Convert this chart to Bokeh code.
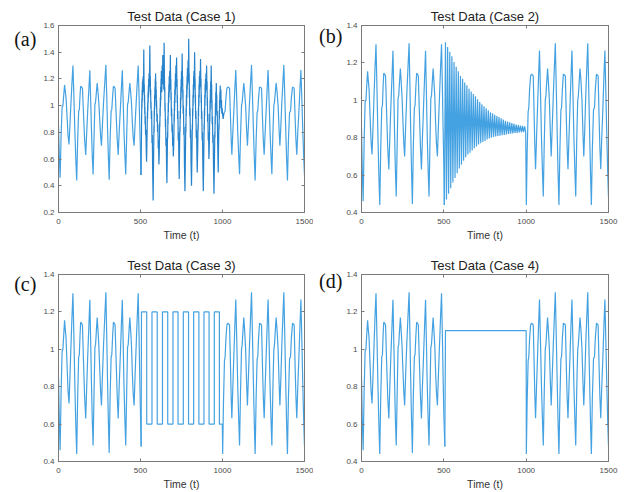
from bokeh.plotting import figure
from bokeh.layouts import column, row
from bokeh.models import LinearAxis, FixedTicker, Range1d
from bokeh.embed import file_html
from bokeh.resources import INLINE

# ---------------- data ----------------
x_ticks = [0, 500, 1000, 1500]
x_tick_labels = ["0", "500", "1000", "1500"]
y_ticks_a = [0.2, 0.4, 0.6, 0.8, 1.0, 1.2, 1.4, 1.6]
y_labels_a = ["0.2", "0.4", "0.6", "0.8", "1", "1.2", "1.4", "1.6"]
y_ticks_b = [0.4, 0.6, 0.8, 1.0, 1.2, 1.4]
y_labels_b = ["0.4", "0.6", "0.8", "1", "1.2", "1.4"]
titles = ["Test Data (Case 1)", "Test Data (Case 2)", "Test Data (Case 3)", "Test Data (Case 4)"]
panels = ["(a)", "(b)", "(c)", "(d)"]
x_title = "Time (t)"

# common signal, t = 0 .. 500
pre_t = [0, 5, 10, 16, 22, 27, 32, 37, 42, 46, 52, 58, 64, 70, 76, 82, 88, 94, 100, 106, 111,
         117, 123, 127, 131, 135, 140, 146, 152, 159, 166, 172, 178, 185, 191, 196, 201, 206, 211,
         217, 222, 226, 231, 236, 241, 246, 252, 257, 262, 268, 275, 282, 289, 294, 299, 304, 309,
         315, 321, 325, 330, 335, 340, 345, 351, 358, 364, 370, 377, 383, 389, 394, 399, 405, 410,
         416, 421, 425, 430, 435, 440, 445, 450, 455, 461, 467, 474, 480, 486, 491, 496, 500]
pre_y = [0.85, 0.62, 0.46, 0.78, 0.99, 1.00, 1.08, 1.155, 1.10, 1.06, 0.92, 0.78, 0.71, 0.86, 1.02, 1.17, 1.30, 1.06, 0.80, 0.58, 0.44,
         0.75, 0.96, 0.97, 1.07, 1.145, 1.14, 1.13, 0.95, 0.75, 0.63, 0.80, 0.96, 1.12, 1.265, 1.05, 0.82, 0.62, 0.485,
         0.78, 1.01, 1.025, 1.10, 1.17, 1.10, 1.02, 0.88, 0.77, 0.70, 0.86, 1.03, 1.17, 1.305, 1.08, 0.83, 0.62, 0.445,
         0.76, 0.96, 0.97, 1.07, 1.145, 1.14, 1.13, 0.95, 0.75, 0.63, 0.80, 0.97, 1.12, 1.265, 1.05, 0.82, 0.62, 0.485,
         0.78, 1.01, 1.025, 1.10, 1.17, 1.10, 1.02, 0.88, 0.77, 0.70, 0.86, 1.03, 1.17, 1.30, 1.08, 0.83, 0.65]

# common signal, t = 1000 .. 1500
post_t = [1001, 1006, 1012, 1016, 1021, 1027, 1033, 1038, 1043, 1049, 1053, 1057, 1063, 1069, 1075, 1081,
          1087, 1093, 1099, 1104, 1110, 1116, 1120, 1125, 1130, 1135, 1141, 1147, 1152, 1158, 1165, 1171,
          1177, 1183, 1189, 1194, 1199, 1205, 1211, 1215, 1220, 1226, 1232, 1238, 1244, 1249, 1254, 1260,
          1266, 1272, 1278, 1284, 1290, 1296, 1301, 1307, 1313, 1317, 1322, 1327, 1333, 1339, 1345, 1350,
          1356, 1362, 1368, 1374, 1380, 1386, 1391, 1396, 1402, 1409, 1415, 1420, 1427, 1432, 1437, 1443,
          1448, 1453, 1459, 1466, 1472, 1478, 1484, 1490, 1495, 1500]
post_y = [0.44, 0.72, 0.94, 0.96, 1.06, 1.13, 1.14, 1.135, 1.13, 0.90, 0.74, 0.632, 0.80, 0.96, 1.12, 1.266,
          1.04, 0.80, 0.62, 0.486, 0.78, 1.00, 1.025, 1.10, 1.17, 1.10, 1.00, 0.82, 0.70, 0.85, 1.03, 1.17,
          1.305, 1.06, 0.80, 0.60, 0.44, 0.74, 0.95, 0.96, 1.06, 1.14, 1.135, 1.13, 0.90, 0.74, 0.632, 0.80,
          0.96, 1.12, 1.266, 1.04, 0.80, 0.62, 0.486, 0.78, 1.00, 1.025, 1.10, 1.17, 1.10, 1.00, 0.82, 0.70,
          0.85, 1.03, 1.17, 1.305, 1.06, 0.80, 0.60, 0.44, 0.74, 0.95, 0.96, 1.06, 1.14, 1.135, 1.13, 0.90,
          0.74, 0.632, 0.80, 0.96, 1.12, 1.266, 1.04, 0.80, 0.62, 0.48]

# Case 1 middle section (irregular, noisy), read point by point
c1_t = [503, 506, 508, 509, 510, 511, 512, 513, 514, 515, 516, 518, 520, 522, 523, 524, 525, 526, 527, 528,
        529, 531, 533, 535, 537, 539, 541, 542, 543, 544, 545, 546, 547, 548, 549, 550, 551, 552, 553, 555,
        557, 559, 560, 561, 562, 563, 564, 566, 568, 570, 572, 574, 577, 580, 582, 583, 584, 585, 586, 587,
        588, 589, 590, 591, 592, 593, 594, 595, 596, 597, 598, 600, 602, 604, 606, 608, 610, 612, 614, 616,
        617, 618, 619, 620, 621, 622, 623, 624, 625, 626, 627, 628, 629, 630, 632, 634, 636, 638, 640, 642,
        644, 646, 647, 648, 649, 650, 652, 653, 655, 657, 659, 661, 663, 665, 666, 667, 668, 669, 670, 671,
        672, 673, 674, 675, 676, 678, 680, 682, 684, 685, 686, 687, 688, 690, 692, 694, 696, 698, 700, 702,
        704, 705, 706, 707, 708, 709, 710, 711, 712, 713, 714, 716, 718, 720, 722, 723, 724, 725, 726, 728,
        730, 732, 734, 736, 738, 740, 741, 742, 743, 744, 745, 746, 747, 748, 749, 750, 752, 754, 756, 757,
        758, 759, 760, 762, 764, 766, 768, 771, 774, 776, 777, 778, 779, 780, 781, 782, 783, 784, 785, 786,
        788, 790, 792, 794, 796, 797, 798, 799, 800, 802, 804, 806, 808, 811, 814, 816, 817, 818, 819, 820,
        821, 822, 823, 824, 825, 826, 828, 830, 832, 833, 834, 835, 836, 838, 840, 842, 844, 846, 849, 851,
        852, 853, 854, 855, 856, 857, 858, 859, 860, 862, 864, 866, 868, 869, 870, 871, 872, 874, 876, 878,
        880, 883, 886, 888, 889, 890, 891, 892, 893, 894, 895, 896, 897, 899, 901, 903, 905, 906, 907, 908,
        909, 911, 913, 915, 917, 919, 921, 922, 923, 924, 925, 926, 927, 928, 929, 931, 933, 934, 935, 936,
        937, 939, 941, 943, 945, 948, 951, 953, 954, 955, 956, 957, 958, 959, 960, 962, 964, 965, 966, 968,
        970, 972, 974, 976, 978, 979, 980, 981, 982, 983, 984, 985, 986, 988, 990, 992, 994, 996, 998, 1000,
        1004, 1008, 1012]
c1_y = [0.48, 0.80, 1.05, 0.98, 1.12, 1.04, 1.18, 1.08, 1.20, 1.10, 1.22, 1.12, 1.42, 1.10, 1.16, 1.02, 1.08, 0.94, 0.99, 0.86,
        0.92, 0.78, 0.82, 0.66, 0.58, 0.70, 0.86, 0.95, 0.90, 1.02, 0.96, 1.10, 1.02, 1.15, 1.06, 1.20, 1.10, 1.24, 1.14, 1.26,
        1.45, 1.18, 1.22, 1.08, 1.12, 0.98, 1.03, 0.90, 0.96, 0.72, 0.78, 0.52, 0.29, 0.62, 0.85, 0.80, 0.98, 0.92, 1.08, 1.00,
        1.14, 1.05, 1.20, 1.10, 1.24, 1.12, 1.18, 1.06, 1.12, 0.98, 1.04, 0.88, 0.94, 0.80, 0.86, 0.68, 0.74, 0.56, 0.62, 0.76,
        0.88, 0.84, 0.98, 0.92, 1.06, 0.99, 1.14, 1.04, 1.20, 1.10, 1.26, 1.14, 1.22, 1.10, 1.30, 1.16, 1.38, 1.20, 1.24, 1.12,
        1.47, 1.22, 1.10, 1.14, 0.96, 1.02, 0.84, 0.90, 0.70, 0.76, 0.54, 0.42, 0.60, 0.80, 0.76, 0.92, 0.86, 1.02, 0.95, 1.10,
        1.02, 1.16, 1.06, 1.22, 1.10, 1.26, 1.12, 1.38, 1.16, 1.20, 1.04, 1.10, 0.92, 0.98, 0.80, 0.86, 0.70, 0.76, 0.62, 0.68,
        0.80, 0.94, 0.88, 1.04, 0.96, 1.12, 1.02, 1.18, 1.08, 1.24, 1.12, 1.30, 1.14, 1.36, 1.16, 1.20, 1.02, 1.08, 0.90, 0.96,
        0.74, 0.80, 0.58, 0.45, 0.66, 0.84, 0.80, 0.96, 0.90, 1.06, 0.98, 1.14, 1.04, 1.20, 1.10, 1.26, 1.14, 1.39, 1.18, 1.22,
        1.06, 1.12, 0.94, 1.00, 0.78, 0.84, 0.56, 0.36, 0.64, 0.86, 0.80, 0.98, 0.92, 1.08, 1.00, 1.16, 1.06, 1.22, 1.12, 1.28,
        1.16, 1.34, 1.18, 1.50, 1.20, 1.24, 1.06, 1.12, 0.92, 0.98, 0.76, 0.82, 0.58, 0.40, 0.66, 0.86, 0.82, 0.98, 0.92, 1.08,
        1.00, 1.16, 1.06, 1.22, 1.12, 1.26, 1.14, 1.40, 1.16, 1.20, 1.02, 1.08, 0.90, 0.96, 0.76, 0.82, 0.62, 0.50, 0.68, 0.86,
        0.82, 0.98, 0.92, 1.08, 1.00, 1.16, 1.06, 1.22, 1.12, 1.26, 1.14, 1.35, 1.16, 1.20, 1.02, 1.08, 0.90, 0.96, 0.74, 0.80,
        0.56, 0.36, 0.64, 0.86, 0.82, 0.98, 0.92, 1.08, 1.00, 1.16, 1.06, 1.20, 1.10, 1.24, 1.12, 1.30, 1.14, 1.18, 1.00, 1.06,
        0.88, 0.94, 0.74, 0.80, 0.60, 0.66, 0.80, 0.94, 0.88, 1.04, 0.96, 1.12, 1.02, 1.18, 1.08, 1.30, 1.12, 1.16, 0.98, 1.04,
        0.86, 0.92, 0.72, 0.78, 0.56, 0.34, 0.60, 0.80, 0.76, 0.92, 0.86, 1.02, 0.94, 1.10, 1.00, 1.17, 1.04, 1.08, 0.92, 0.96,
        0.76, 0.62, 0.50, 0.70, 0.86, 0.82, 0.96, 0.90, 1.04, 0.96, 1.10, 1.02, 1.15, 1.06, 1.12, 0.98, 1.04, 0.94, 0.98, 0.94,
        0.90, 0.94, 0.95]

# Case 2 middle section (decaying oscillation)
c2_t = [503, 510, 516, 523, 529, 536, 542, 549, 555, 562, 568, 575, 581, 588, 594, 601, 607, 614, 620, 627,
        633, 640, 646, 653, 659, 666, 672, 679, 685, 692, 698, 705, 711, 718, 724, 731, 737, 744, 750, 757,
        763, 770, 776, 783, 789, 796, 802, 809, 815, 822, 828, 835, 841, 848, 854, 861, 867, 874, 880, 887,
        893, 900, 906, 913, 919, 926, 932, 939, 945, 952, 958, 965, 971, 978, 984, 991, 997]
c2_y = [0.44, 1.31, 0.47, 1.285, 0.50, 1.26, 0.53, 1.235, 0.56, 1.205, 0.585, 1.18, 0.61, 1.155, 0.635, 1.13, 0.655, 1.115, 0.677, 1.095,
        0.695, 1.08, 0.71, 1.062, 0.72, 1.047, 0.732, 1.034, 0.743, 1.021, 0.753, 1.006, 0.764, 0.991, 0.77, 0.979, 0.777, 0.968, 0.783, 0.957,
        0.79, 0.947, 0.796, 0.936, 0.80, 0.93, 0.804, 0.923, 0.807, 0.916, 0.809, 0.91, 0.811, 0.904, 0.813, 0.897, 0.815, 0.891, 0.817, 0.886,
        0.82, 0.882, 0.821, 0.878, 0.823, 0.874, 0.825, 0.87, 0.826, 0.868, 0.828, 0.865, 0.829, 0.863, 0.83, 0.861, 0.83]

# Case 3 middle section (square oscillation)
c3_t = [504, 506, 538, 538, 570, 570, 602, 602, 634, 634, 666, 666, 698, 698, 729, 729, 761, 761, 793, 793,
        824, 824, 856, 856, 887, 887, 918, 918, 950, 950, 981, 981, 999]
c3_y = [0.48, 1.2, 1.2, 0.6, 0.6, 1.2, 1.2, 0.6, 0.6, 1.2, 1.2, 0.6, 0.6, 1.2, 1.2, 0.6, 0.6, 1.2, 1.2, 0.6,
        0.6, 1.2, 1.2, 0.6, 0.6, 1.2, 1.2, 0.6, 0.6, 1.2, 1.2, 0.6, 0.6]

# Case 4 middle section (constant)
c4_t = [506, 510, 1000]
c4_y = [0.48, 1.10, 1.10]

LINE = "#45a2e2"
LINE_DENSE = "#2683cc"
FRAME = "#7a7a7a"
TICKTXT = "#4a4a4a"


def setp(obj, name, val):
    try:
        setattr(obj, name, val)
    except Exception:
        pass


def build(mid_t, mid_y, post_from, ymin, ymax, yticks, ylabels, title, panel, panel_standoff,
          panel_lh, width, height, bl, br, bt, bb, mid_color):
    post_tt = [v for v in post_t if v >= post_from]
    post_yy = [post_y[i] for i, v in enumerate(post_t) if v >= post_from]
    p = figure(width=width, height=height, x_range=Range1d(0, 1500), y_range=Range1d(ymin, ymax),
               output_backend="svg", toolbar_location=None,
               min_border_left=bl, min_border_right=br, min_border_top=bt, min_border_bottom=bb)
    p.line(pre_t + [mid_t[0]], pre_y + [mid_y[0]], line_color=LINE, line_width=1.2)
    p.line(mid_t, mid_y, line_color=mid_color, line_width=1.2)
    p.line([mid_t[-1]] + post_tt, [mid_y[-1]] + post_yy, line_color=LINE, line_width=1.2)
    p.xgrid.visible = False
    p.ygrid.visible = False
    p.outline_line_color = FRAME
    p.outline_line_width = 1
    p.background_fill_color = "white"
    p.border_fill_color = "white"

    p.title.text = title
    p.title.align = "center"
    p.title.text_font = "Liberation Sans"
    p.title.text_font_size = "13px"
    p.title.text_font_style = "normal"
    p.title.text_color = "#222222"
    p.title.standoff = 4

    for ax, ticks, labels in ((p.xaxis[0], x_ticks, x_tick_labels), (p.yaxis[0], yticks, ylabels)):
        ax.ticker = FixedTicker(ticks=ticks)
        ax.major_label_overrides = {k: l for k, l in zip(ticks, labels)}
        ax.minor_tick_line_color = None
        ax.major_tick_in = 3
        ax.major_tick_out = 0
        ax.major_tick_line_color = FRAME
        ax.axis_line_color = FRAME
        ax.major_label_text_font = "Liberation Sans"
        ax.major_label_text_font_size = "8px"
        ax.major_label_text_color = TICKTXT
        ax.major_label_standoff = 4

    xa = p.xaxis[0]
    xa.major_label_standoff = 6
    xa.axis_label = x_title
    xa.axis_label_text_font = "Liberation Sans"
    xa.axis_label_text_font_size = "10.5px"
    xa.axis_label_text_font_style = "normal"
    xa.axis_label_text_color = "#333333"
    xa.axis_label_standoff = 2

    ya = p.yaxis[0]
    ya.axis_label = "\n" + panel
    ya.axis_label_text_font = "Liberation Serif"
    ya.axis_label_text_font_size = "20px"
    ya.axis_label_text_font_style = "normal"
    ya.axis_label_text_color = "#111111"
    ya.axis_label_text_line_height = panel_lh
    ya.axis_label_standoff = panel_standoff
    setp(ya, "axis_label_orientation", "horizontal")
    setp(ya, "axis_label_align", "end")

    top = LinearAxis(ticker=FixedTicker(ticks=x_ticks), major_label_text_font_size="8px",
                     major_label_text_color=None,
                     major_tick_in=3, major_tick_out=0, minor_tick_line_color=None,
                     axis_line_color=FRAME, major_tick_line_color=FRAME, major_label_standoff=0)
    right = LinearAxis(ticker=FixedTicker(ticks=yticks), major_label_text_font_size="8px",
                       major_label_text_color=None,
                       major_tick_in=3, major_tick_out=0, minor_tick_line_color=None,
                       axis_line_color=FRAME, major_tick_line_color=FRAME, major_label_standoff=0)
    top.major_label_overrides = {k: "" for k in x_ticks}
    right.major_label_overrides = {k: "" for k in yticks}
    p.add_layout(top, "above")
    p.add_layout(right, "right")
    return p


pa = build(c1_t, c1_y, 1016, 0.2, 1.6, y_ticks_a, y_labels_a, titles[0], panels[0], 4, 1.2,
           313, 246, 58, 9, 25, 34, LINE_DENSE)
pb = build(c2_t, c2_y, 1001, 0.4, 1.4, y_ticks_b, y_labels_b, titles[1], panels[1], 1, 0.95,
           313, 246, 48, 18, 25, 34, LINE)
pc = build(c3_t, c3_y, 1001, 0.4, 1.4, y_ticks_b, y_labels_b, titles[2], panels[2], 4, 0.9,
           313, 246, 58, 9, 28, 31, LINE)
pd = build(c4_t, c4_y, 1001, 0.4, 1.4, y_ticks_b, y_labels_b, titles[3], panels[3], 1, 0.6,
           313, 246, 48, 18, 28, 31, LINE)

layout = column(row(pa, pb), row(pc, pd))
open("out.html", "w").write(file_html(layout, INLINE))
